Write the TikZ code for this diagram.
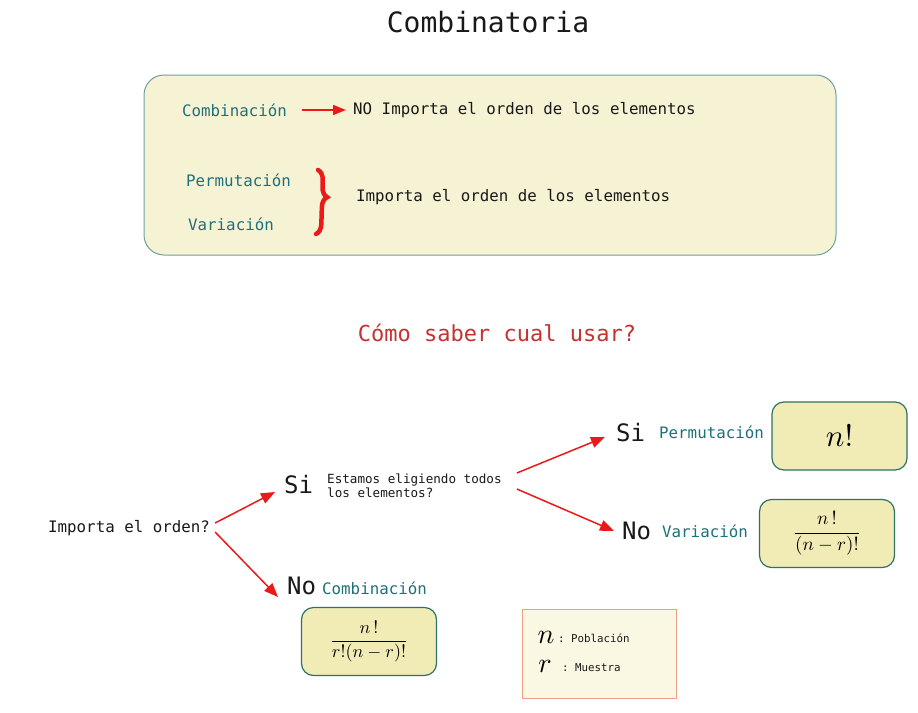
\documentclass[tikz,border=0pt]{standalone}
\usepackage{fontspec}
\setmonofont{DejaVu Sans Mono}
\usetikzlibrary{arrows.meta,decorations.pathreplacing,calc}
\definecolor{teal1}{RGB}{30,112,122}
\definecolor{ink}{RGB}{25,25,25}
\definecolor{titlered}{RGB}{196,50,50}
\definecolor{boxfill}{RGB}{246,243,212}
\definecolor{boxline}{RGB}{110,160,160}
\definecolor{fboxfill}{RGB}{241,235,182}
\definecolor{fboxline}{RGB}{45,115,100}
\definecolor{legfill}{RGB}{250,247,226}
\definecolor{legline}{RGB}{236,160,130}
\definecolor{arrred}{RGB}{235,25,25}
\begin{document}
\begin{tikzpicture}[x=1pt,y=-1pt,
  txt/.style={font=\ttfamily\fontsize{15.8}{18}\selectfont, text=ink, inner sep=0pt, anchor=west},
  lbl/.style={txt, text=teal1},
  big/.style={font=\ttfamily\fontsize{24}{28}\selectfont, text=ink, inner sep=0pt, anchor=west},
  small/.style={font=\ttfamily\fontsize{12.6}{14}\selectfont, text=ink, inner sep=0pt, anchor=west, align=left},
  tiny/.style={font=\ttfamily\fontsize{10.8}{12}\selectfont, text=ink, inner sep=0pt, anchor=west},
  fbox/.style={draw=fboxline, fill=fboxfill, line width=1.2pt, rounded corners=12pt, minimum width=135pt, minimum height=68pt, inner sep=0pt},
  mth/.style={inner sep=0pt},
  arr/.style={draw=arrred, line width=1.5pt, -{Triangle[length=14pt,width=11pt]}},
]
\useasboundingbox[fill=white] (0,0) rectangle (918,712);

% title
\node[font=\ttfamily\fontsize{28}{32}\selectfont, text=ink] (title) at (488,22) {Combinatoria};

% top box
\node[draw=boxline, fill=boxfill, line width=1pt, rounded corners=20pt, minimum width=692pt, minimum height=180pt] (topbox) at (490,165) {};
\node[lbl] (comb1) at (182,110) {Combinación};
\node[txt] (noimp) at (353,110) {NO Importa el orden de los elementos};
\draw[arr, -{Triangle[length=13pt,width=10pt]}] ($(comb1.east)+(15,0)$) -- ($(noimp.west)+(-7,0)$);
\node[lbl] (perm1) at (186,180) {Permutación};
\node[lbl] (var1) at (188,224) {Variación};
\node[txt] (imp1) at (356,197) {Importa el orden de los elementos};
\draw[decorate, decoration={brace, amplitude=10pt, aspect=0.42}, arrred, line width=4.5pt, line cap=round]
  ($(perm1.east)+(27,-10)$) -- ($(var1.east)+(42,10)$);

% question
\node[font=\ttfamily\fontsize{22}{26}\selectfont, text=titlered] (q) at (497,333) {Cómo saber cual usar?};

% decision tree
\node[txt] (imp) at (48,528) {Importa el orden?};
\node[big] (si1) at (284,485) {Si};
\node[big] (no1) at (287,586) {No};
\node[small] (est) at (327,486) {Estamos eligiendo todos\\los elementos?};
\node[lbl] (comb2) at (322,588) {Combinación};
\node[big] (si2) at (616,433) {Si};
\node[lbl] (perm2) at (659,432) {Permutación};
\node[big] (no2) at (622,531) {No};
\node[lbl] (var2) at (662,531) {Variación};

\draw[arr] ($(imp.east)+(5,-5)$) -- ($(si1.west)+(-9,7)$);
\draw[arr] ($(imp.east)+(5,4)$) -- ($(no1.west)+(-9,11)$);
\draw[arr] ($(est.east)+(15,-13)$) -- ($(si2.west)+(-11,4)$);
\draw[arr] ($(est.east)+(15,3)$) -- ($(no2.west)+(-8,0)$);

% formula boxes
\node[fbox] (fperm) at (839.5,436) {};
\node[mth, scale=3.1] (fpermt) at (fperm.center) {$n!$};
\node[fbox] (fvar) at (827,533.5) {};
\node[mth, scale=1.9] (fvart) at (fvar.center) {$\displaystyle\frac{n\,!}{(n-r)!}$};
\node[fbox] (fcomb) at (369,641.5) {};
\node[mth, scale=1.8] (fcombt) at (fcomb.center) {$\displaystyle\frac{n\,!}{r!(n-r)!}$};

% legend
\node[draw=legline, fill=legfill, line width=1pt, minimum width=154pt, minimum height=89pt] (leg) at (599,653.5) {};
\node[mth, scale=2.8] (nvar) at (546,637) {$n$};
\node[tiny] (pob) at (558,638) {: Población};
\node[mth, scale=2.8] (rvar) at (545,666) {$r$};
\node[tiny] (mue) at (562,668) {: Muestra};
\end{tikzpicture}
\end{document}
